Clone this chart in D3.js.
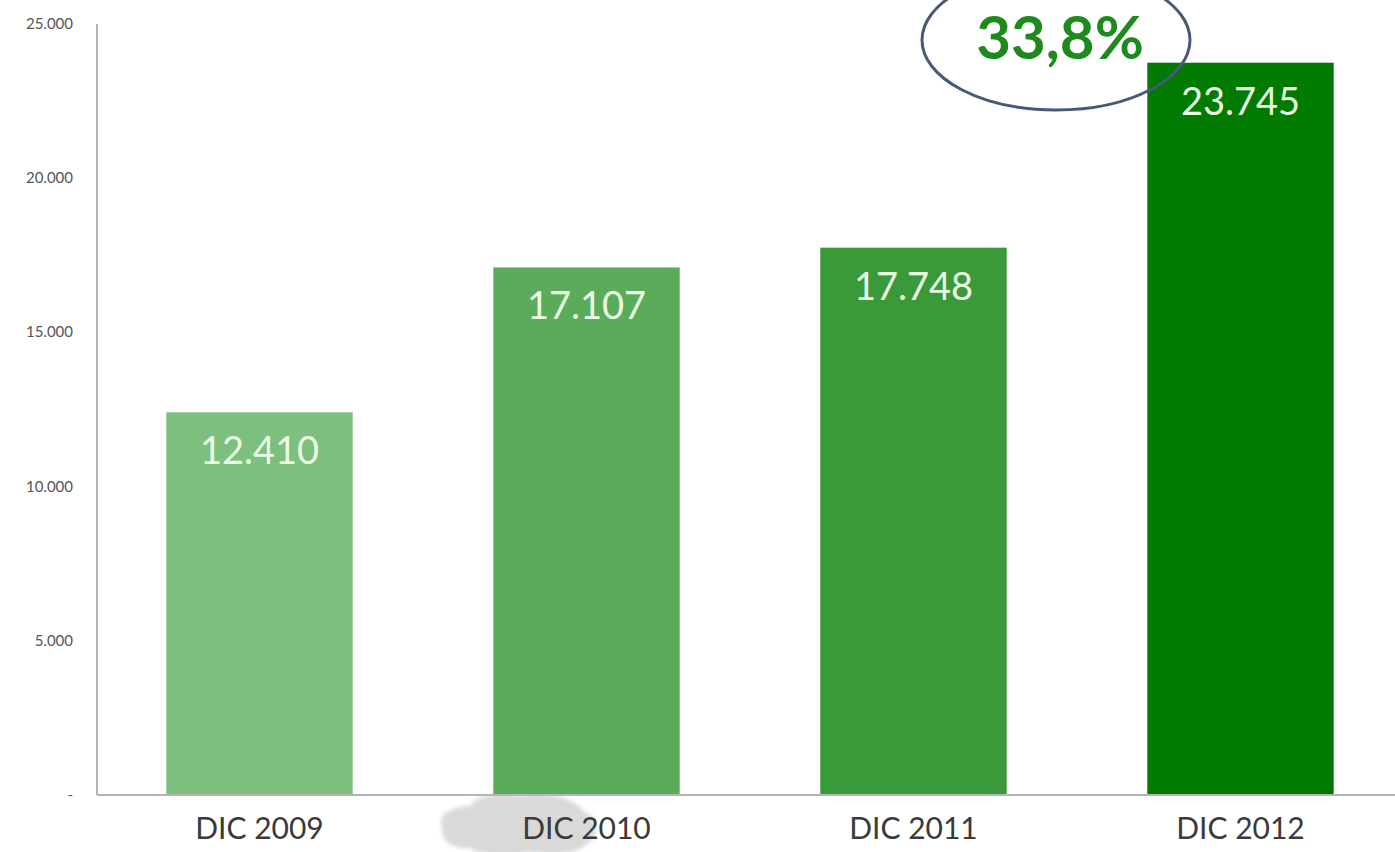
<!DOCTYPE html>
<html>
<head>
<meta charset="utf-8">
<script src="https://cdn.jsdelivr.net/npm/d3@7"></script>
<style>
  html, body { margin: 0; padding: 0; background: #fff; }
  svg { display: block; }
</style>
</head>
<body>
<svg id="chart" width="1395" height="852"></svg>
<script>
const categories = ["DIC 2009", "DIC 2010", "DIC 2011", "DIC 2012"];
const values = [12410, 17107, 17748, 23745];
const valueLabels = ["12.410", "17.107", "17.748", "23.745"];
const barColors = ["#7dbf7d", "#5aac5a", "#3a9a3a", "#007a00"];
const yTicks = [0, 5000, 10000, 15000, 20000, 25000];
const yTickLabels = ["-", "5.000", "10.000", "15.000", "20.000", "25.000"];
const growthLabel = "33,8%";

const svg = d3.select("#chart");
const W = 1395, H = 852;
const margin = { left: 97, top: 24, bottom: 57 };
const baseY = H - margin.bottom; // 795

const x = d3.scaleBand().domain(categories).range([96, 1404]).paddingInner(0.43).paddingOuter(0.215);
const y = d3.scaleLinear().domain([0, 25000]).range([baseY, margin.top]);

// watermark blob
const defs = svg.append("defs");
defs.append("filter").attr("id", "blur").append("feGaussianBlur").attr("stdDeviation", 2);
svg.append("path")
  .attr("d", "M442,828 C436,815 452,806 470,806 C475,796 500,791 520,796 C545,790 575,798 585,812 C600,818 600,838 585,845 C575,856 545,856 530,852 C510,858 480,856 470,848 C452,850 440,840 442,828 Z")
  .attr("fill", "#d9d9d9").attr("filter", "url(#blur)");

// bars
svg.selectAll("rect.bar").data(values).enter().append("rect")
  .attr("class", "bar")
  .attr("x", (d, i) => x(categories[i]))
  .attr("width", x.bandwidth())
  .attr("y", d => y(d))
  .attr("height", d => baseY - y(d))
  .attr("fill", (d, i) => barColors[i]);

// value labels
svg.selectAll("text.val").data(values).enter().append("text")
  .attr("class", "val")
  .attr("x", (d, i) => x(categories[i]) + x.bandwidth() / 2)
  .attr("y", d => y(d) + 52)
  .attr("text-anchor", "middle")
  .attr("font-family", "Lato, 'Open Sans', sans-serif")
  .attr("font-size", 38)
  .attr("fill", "#eafbe4")
  .text((d, i) => valueLabels[i]);

// y axis line
svg.append("line").attr("x1", 97).attr("x2", 97).attr("y1", y(25000)).attr("y2", baseY)
  .attr("stroke", "#b5b5b5").attr("stroke-width", 2);
// x axis line
svg.append("line").attr("x1", 97).attr("x2", W).attr("y1", baseY).attr("y2", baseY)
  .attr("stroke", "#b5b5b5").attr("stroke-width", 2);

// y tick labels
svg.selectAll("text.ytick").data(yTicks).enter().append("text")
  .attr("class", "ytick")
  .attr("x", 73)
  .attr("y", d => y(d) + 5)
  .attr("text-anchor", "end")
  .attr("font-family", "Lato, 'Open Sans', sans-serif")
  .attr("font-size", 15)
  .attr("fill", "#555")
  .text((d, i) => yTickLabels[i]);

// x labels
svg.selectAll("text.xlab").data(categories).enter().append("text")
  .attr("class", "xlab")
  .attr("x", d => x(d) + x.bandwidth() / 2)
  .attr("y", 839)
  .attr("text-anchor", "middle")
  .attr("font-family", "Lato, 'Open Sans', sans-serif")
  .attr("font-size", 30)
  .attr("fill", "#3a3a3a")
  .text(d => d);

// growth annotation
svg.append("ellipse")
  .attr("cx", 1056).attr("cy", 40).attr("rx", 134).attr("ry", 70)
  .attr("fill", "none").attr("stroke", "#4a5878").attr("stroke-width", 3);
svg.append("text")
  .attr("x", 1060).attr("y", 59)
  .attr("text-anchor", "middle")
  .attr("font-family", "Lato, 'Open Sans', sans-serif")
  .attr("font-weight", "bold")
  .attr("font-size", 60)
  .attr("fill", "#1e8a1e")
  .text(growthLabel);
</script>
</body>
</html>
